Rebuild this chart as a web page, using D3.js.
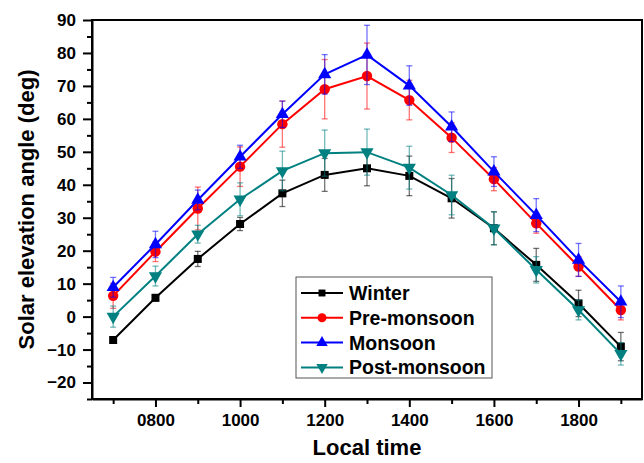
<!DOCTYPE html>
<html lang="en">
<head>
  <meta charset="UTF-8">
  <title>Solar elevation angle</title>
  <script src="https://d3js.org/d3.v7.min.js"></script>
  <style>
    body {margin: 0; padding: 0; background: #fff;}
    svg {display: block; font-family: "Liberation Sans", Arial, sans-serif; font-weight: bold;}
    .axis text {font-size: 17px; font-weight: bold; fill: #000;}
    .axis path, .axis line {stroke: #000; stroke-width: 2;}
  </style>
</head>
<body>
  <div id="chart"></div>
  <script>
    // local time (hour of day)
    const hours = [7, 8, 9, 10, 11, 12, 13, 14, 15, 16, 17, 18, 19];
    const xTicks = [8, 10, 12, 14, 16, 18];
    const yTicks = [-20, -10, 0, 10, 20, 30, 40, 50, 60, 70, 80, 90];

    const winter      = [-7.1, 5.7, 17.5, 28.1, 37.4, 43.0, 45.0, 42.7, 35.9, 26.8, 15.7, 4.0, -9.1];
    const winterErr   = [1.0, 1.0, 2.3, 2.0, 4.0, 5.0, 5.3, 6.0, 6.0, 5.0, 5.0, 4.0, 4.3];
    const preMonsoon  = [6.3, 19.7, 32.8, 45.5, 58.4, 69.0, 73.0, 65.7, 54.3, 41.7, 28.3, 15.2, 2.0];
    const preErr      = [3.8, 3.0, 6.5, 6.0, 7.0, 9.0, 10.0, 6.0, 4.5, 3.5, 3.0, 3.0, 3.0];
    const monsoon     = [8.9, 21.9, 35.4, 48.5, 61.4, 73.5, 79.4, 70.1, 57.6, 44.0, 30.8, 17.2, 4.5];
    const monsoonErr  = [3.0, 4.0, 3.0, 3.5, 4.0, 6.0, 9.0, 6.0, 4.5, 4.5, 5.0, 5.0, 4.8];
    const postMonsoon = [0.0, 12.3, 25.0, 35.6, 44.2, 49.6, 49.9, 45.2, 36.9, 26.8, 14.2, 2.0, -11.3];
    const postErr     = [3.2, 3.0, 2.7, 5.0, 6.0, 7.0, 7.0, 6.5, 6.0, 5.0, 4.0, 3.0, 3.4];

    const series = [
      {name: "Winter", values: winter, err: winterErr, color: "#000000", symbol: "square"},
      {name: "Pre-monsoon", values: preMonsoon, err: preErr, color: "#ff0000", symbol: "circle"},
      {name: "Monsoon", values: monsoon, err: monsoonErr, color: "#0000ff", symbol: "up"},
      {name: "Post-monsoon", values: postMonsoon, err: postErr, color: "#008080", symbol: "down"}
    ];

    const W = 644, H = 463;
    const margin = {top: 20, right: 2, bottom: 64, left: 92};

    const svg = d3.select("#chart").append("svg")
      .attr("width", W).attr("height", H);

    const x = d3.scaleLinear().domain([6.5, 19.5]).range([margin.left, W - margin.right]);
    const y = d3.scaleLinear().domain([-25, 90]).range([H - margin.bottom, margin.top]);

    const fmt = h => String(h * 100).padStart(4, "0");

    // minor ticks
    svg.append("g").attr("class", "axis")
      .attr("transform", `translate(0,${y(-25)})`)
      .call(d3.axisBottom(x).tickValues([7, 9, 11, 13, 15, 17, 19]).tickSize(5).tickFormat(""))
      .select(".domain").remove();
    svg.append("g").attr("class", "axis")
      .attr("transform", `translate(${x(6.5)},0)`)
      .call(d3.axisLeft(y).tickValues(d3.range(-25, 90, 10)).tickSize(5).tickFormat(""))
      .select(".domain").remove();

    // major ticks
    svg.append("g").attr("class", "axis")
      .attr("transform", `translate(0,${y(-25)})`)
      .call(d3.axisBottom(x).tickValues(xTicks).tickSize(8).tickSizeOuter(0).tickPadding(7).tickFormat(fmt));
    svg.append("g").attr("class", "axis")
      .attr("transform", `translate(${x(6.5)},0)`)
      .call(d3.axisLeft(y).tickValues(yTicks).tickSize(9).tickSizeOuter(0).tickPadding(7));

    // frame
    svg.append("rect")
      .attr("x", x(6.5)).attr("y", y(90))
      .attr("width", x(19.5) - x(6.5)).attr("height", y(-25) - y(90))
      .attr("fill", "none").attr("stroke", "#000").attr("stroke-width", 2);

    function marker(sel, symbol, s) {
      const types = {square: d3.symbolSquare, circle: d3.symbolCircle, up: d3.symbolTriangle, down: d3.symbolTriangle};
      sel.append("path")
        .attr("d", d3.symbol().type(types[symbol]).size(s))
        .attr("transform", symbol === "down" ? "rotate(180)" : null);
    }
    const sizes = {square: 64, circle: 85, up: 75, down: 75};

    series.forEach(s => {
      const g = svg.append("g");
      // error bars
      const eb = g.append("g").attr("stroke", s.color).attr("stroke-opacity", 0.55).attr("stroke-width", 1.3);
      hours.forEach((h, i) => {
        const cx = x(h), y0 = y(s.values[i] - s.err[i]), y1 = y(s.values[i] + s.err[i]);
        eb.append("line").attr("x1", cx).attr("x2", cx).attr("y1", y0).attr("y2", y1);
        eb.append("line").attr("x1", cx - 3).attr("x2", cx + 3).attr("y1", y0).attr("y2", y0);
        eb.append("line").attr("x1", cx - 3).attr("x2", cx + 3).attr("y1", y1).attr("y2", y1);
      });
      g.append("path")
        .datum(hours.map((h, i) => [h, s.values[i]]))
        .attr("fill", "none").attr("stroke", s.color).attr("stroke-width", 2)
        .attr("d", d3.line().x(d => x(d[0])).y(d => y(d[1])));
      hours.forEach((h, i) => {
        const m = g.append("g").attr("transform", `translate(${x(h)},${y(s.values[i])})`).attr("fill", s.color);
        marker(m, s.symbol, sizes[s.symbol]);
      });
    });

    // legend
    const lg = svg.append("g").attr("transform", "translate(296,277)");
    lg.append("rect").attr("width", 196).attr("height", 101)
      .attr("fill", "#fff").attr("stroke", "#555").attr("stroke-width", 1);
    series.forEach((s, i) => {
      const row = lg.append("g").attr("transform", `translate(0,${16 + i * 24.8})`);
      row.append("line").attr("x1", 5).attr("x2", 47).attr("stroke", s.color).attr("stroke-width", 2);
      const m = row.append("g").attr("transform", "translate(26,0)").attr("fill", s.color);
      marker(m, s.symbol, sizes[s.symbol] * 0.75);
      row.append("text").attr("x", 53).attr("dy", "0.36em")
        .style("font-size", "19.5px").text(s.name);
    });

    // axis titles
    svg.append("text")
      .attr("transform", `translate(34,${(y(90) + y(-25)) / 2}) rotate(-90)`)
      .attr("text-anchor", "middle").style("font-size", "22px")
      .text("Solar elevation angle (deg)");
    svg.append("text")
      .attr("x", (x(6.5) + x(19.5)) / 2).attr("y", 455)
      .attr("text-anchor", "middle").style("font-size", "22px")
      .text("Local time");
  </script>
</body>
</html>
